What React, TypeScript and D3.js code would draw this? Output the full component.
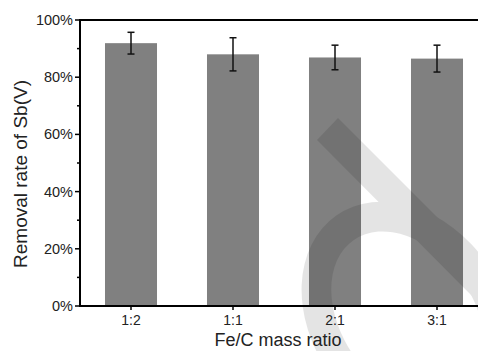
import React from 'react';
import * as d3 from 'd3';

// Fe/C ratio vs Sb(V) removal
const categories = ['1:2', '1:1', '2:1', '3:1'];
const removal = [91.9, 88.0, 86.9, 86.5];
const errors = [3.8, 5.8, 4.3, 4.7];
const yTicks = [0, 20, 40, 60, 80, 100];
const yMinor = [10, 30, 50, 70, 90];

const W = 478, H = 351;
const m = { left: 80, top: 20, bottom: 306, right: 488 };

// ring outline of the watermark: outer and inner ellipse, hole cut by evenodd
function ellipse(rx: number, ry: number) {
  return `M ${-rx} 0 A ${rx} ${ry} 0 1 0 ${rx} 0 A ${rx} ${ry} 0 1 0 ${-rx} 0 Z`;
}

export default function App() {
  const x = d3.scaleBand<string>().domain(categories).range([m.left, m.right]).paddingInner(0.49).paddingOuter(0.245);
  const y = d3.scaleLinear().domain([0, 100]).range([m.bottom, m.top]);
  const font = 'Arial, "Liberation Sans", sans-serif';

  return (
    <svg width={W} height={H} style={{ position: 'absolute', left: 0, top: 0 }}>
      <rect width={W} height={H} fill="#fff" />
      {categories.map((c, i) => (
        <rect key={c} x={x(c)} y={y(removal[i])} width={x.bandwidth()} height={y(0) - y(removal[i])} fill="#808080" />
      ))}
      {categories.map((c, i) => {
        const cx = (x(c) as number) + x.bandwidth() / 2;
        const y1 = y(removal[i] + errors[i]);
        const y2 = y(removal[i] - errors[i]);
        return (
          <g key={c} stroke="#111" strokeWidth={1.5}>
            <line x1={cx} x2={cx} y1={y1} y2={y2} />
            <line x1={cx - 3.5} x2={cx + 3.5} y1={y1} y2={y1} />
            <line x1={cx - 3.5} x2={cx + 3.5} y1={y2} y2={y2} />
          </g>
        );
      })}
      {/* watermark */}
      <g opacity={0.1} fill="#000">
        <path d="M 338 118 L 520 300 L 498 322 L 317 140 Z" />
        <g transform="translate(408,318) rotate(55)">
          <path fillRule="evenodd" d={ellipse(125, 96) + ' ' + ellipse(95, 66)} />
        </g>
      </g>
      {/* frame */}
      <g stroke="#000" strokeWidth={2} fill="none">
        <line x1={m.left} x2={W + 5} y1={m.top} y2={m.top} />
        <line x1={m.left} x2={W + 5} y1={m.bottom} y2={m.bottom} />
        <line x1={m.left} x2={m.left} y1={m.top - 1} y2={m.bottom + 1} />
      </g>
      {yTicks.map(t => (
        <g key={t}>
          <line x1={m.left - 5} x2={m.left} y1={y(t)} y2={y(t)} stroke="#000" strokeWidth={1.5} />
          <text x={m.left - 7} y={y(t)} dy="0.35em" textAnchor="end" fontFamily={font} fontSize={14.5} fill="#222">
            {t}%
          </text>
        </g>
      ))}
      {yMinor.map(t => (
        <line key={t} x1={m.left - 3} x2={m.left} y1={y(t)} y2={y(t)} stroke="#000" strokeWidth={1.5} />
      ))}
      {categories.map(c => {
        const cx = (x(c) as number) + x.bandwidth() / 2;
        return (
          <g key={c}>
            <line x1={cx} x2={cx} y1={m.bottom} y2={m.bottom + 4} stroke="#000" strokeWidth={1.5} />
            <text x={cx} y={325} textAnchor="middle" fontFamily={font} fontSize={14} fill="#222">
              {c}
            </text>
          </g>
        );
      })}
      <text x={278} y={346} textAnchor="middle" fontFamily={font} fontSize={18} fill="#222">
        Fe/C mass ratio
      </text>
      <text transform="translate(27,174) rotate(-90)" textAnchor="middle" fontFamily={font} fontSize={19} fill="#222">
        Removal rate of Sb(V)
      </text>
    </svg>
  );
}
